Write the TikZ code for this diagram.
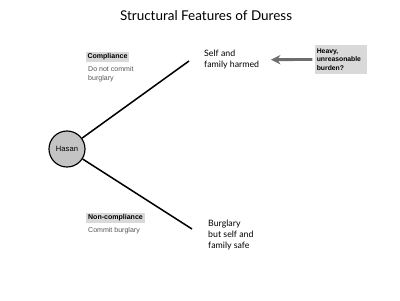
\documentclass[tikz,border=0pt]{standalone}
\usepackage{fontspec}
\setmainfont{Lato}
\newfontfamily\helv{Liberation Sans}
\usetikzlibrary{arrows.meta,positioning}
\definecolor{boxgray}{HTML}{D9D9D9}
\definecolor{circlegray}{HTML}{C4C4C4}
\definecolor{arrowgray}{HTML}{6E6E6E}
\definecolor{notegray}{HTML}{555555}

\begin{document}
\begin{tikzpicture}[
    x=0.03cm, y=-0.03cm,
    person/.style={circle, draw=black, line width=1pt, fill=circlegray, minimum size=1.08cm, inner sep=0pt, font=\helv\fontsize{6.5}{7.5}\selectfont},
    outcome/.style={anchor=north west, align=left, inner sep=0pt, font=\fontsize{7.5}{9.4}\selectfont},
    choice/.style={fill=boxgray, inner sep=1.6pt, font=\helv\bfseries\fontsize{6}{7}\selectfont},
    note/.style={anchor=north west, align=left, inner sep=0pt, text=notegray, font=\helv\fontsize{6}{7.6}\selectfont},
    burdenbox/.style={fill=boxgray, minimum width=1.56cm, minimum height=0.87cm, text width=1.45cm, align=left, inner sep=1pt, font=\helv\bfseries\fontsize{5.8}{7.2}\selectfont},
    branch/.style={line width=1.3pt},
    arrow/.style={-{Stealth[length=8pt, width=8pt]}, line width=2.4pt, draw=arrowgray}
]

\useasboundingbox (0,0) rectangle (400,300);

% Title
\node[font=\fontsize{11.5}{13}\selectfont] (title) at (206,16) {Structural Features of Duress};

% Decision maker
\node[person] (hasan) at (67,149) {Hasan};

% Outcomes
\node[outcome] (harmed) at (204,50) {Self and\\family harmed};
\node[outcome] (safe) at (208,220) {Burglary\\but self and\\family safe};

% Choices
\node[choice] (comply) at (107.5,57) {Compliance};
\node[note] (complynote) at (88,66) {Do not commit\\burglary};
\node[choice] (defy) at (115.5,218) {Non-compliance};
\node[note] (defynote) at (88,227) {Commit burglary};

% Burden
\node[burdenbox] (burden) at (341,59.5) {Heavy,\\unreasonable\\burden?};

% Branches
\coordinate (upEnd) at (189,61);
\coordinate (downEnd) at (192,229);
\draw[branch] (hasan) -- (upEnd);
\draw[branch] (hasan) -- (downEnd);

\draw[arrow, shorten <=2pt, shorten >=10pt] (burden.west) -- (harmed.east);

\end{tikzpicture}
\end{document}
